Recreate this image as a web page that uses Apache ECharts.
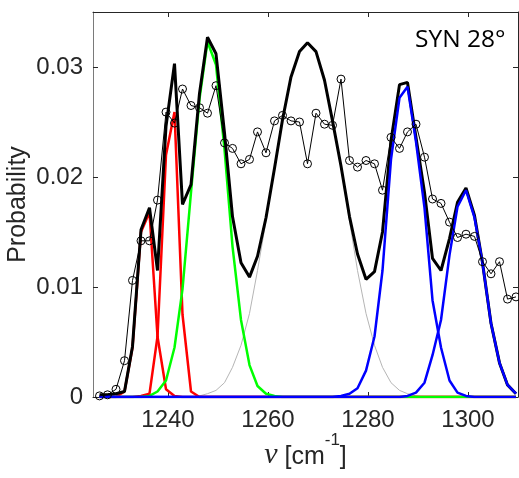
<!DOCTYPE html>
<html>
<head>
<meta charset="utf-8">
<script src="https://cdn.jsdelivr.net/npm/echarts@6/dist/echarts.min.js"></script>
<style>
html,body{margin:0;padding:0;background:#fff;}
#chart{width:519px;height:478px;}
</style>
</head>
<body>
<div id="chart"></div>
<script>
// wavenumber grid (cm^-1)
const nu = [1226.3,1227.9,1229.6,1231.3,1232.9,1234.6,1236.3,1237.9,1239.6,1241.3,
            1242.9,1244.6,1246.3,1247.9,1249.6,1251.3,1252.9,1254.6,1256.3,1257.9,
            1259.6,1261.3,1262.9,1264.6,1266.3,1267.9,1269.6,1271.3,1272.9,1274.6,
            1276.3,1277.9,1279.6,1281.3,1282.9,1284.6,1286.3,1287.9,1289.6,1291.3,
            1292.9,1294.6,1296.3,1297.9,1299.6,1301.3,1302.9,1304.6,1306.3,1307.9,1309.6];
// measured probability (circles)
const measured = [0.0001,0.0002,0.0007,0.0033,0.0106,0.0142,0.0142,0.0179,0.0259,0.0249,
                  0.0280,0.0265,0.0263,0.0258,0.0283,0.0231,0.0226,0.0212,0.0216,0.0241,
                  0.0222,0.0251,0.0256,0.0251,0.0250,0.0212,0.0258,0.0248,0.0247,0.0289,
                  0.0215,0.0209,0.0215,0.0212,0.0188,0.0236,0.0226,0.0241,0.0248,0.0218,
                  0.0180,0.0176,0.0159,0.0145,0.0148,0.0146,0.0123,0.0112,0.0123,0.0089,0.0091];
// total fit (thick black)
const fitTotal = [0.0002,0.0002,0.0003,0.0005,0.0046,0.0152,0.0172,0.0115,0.0246,0.0303,
                  0.0175,0.0193,0.0276,0.0327,0.0312,0.0240,0.0164,0.0122,0.0109,0.0128,
                  0.0163,0.0208,0.0252,0.0291,0.0314,0.0322,0.0314,0.0288,0.0251,0.0210,
                  0.0164,0.0130,0.0107,0.0114,0.0150,0.0233,0.0284,0.0286,0.0236,0.0186,
                  0.0126,0.0115,0.0144,0.0177,0.0190,0.0165,0.0122,0.0067,0.0031,0.0011,0.0003];
// components
const redA = [0,0,0,0.0005,0.0045,0.0150,0.0168,0.0055,0.0007,0.0001,
              0,0,0,0,0,0,0,0,0,0, 0,0,0,0,0,0,0,0,0,0, 0,0,0,0,0,0,0,0,0,0, 0,0,0,0,0,0,0,0,0,0,0];
const redB = [0,0,0,0,0,0.0001,0.0003,0.0055,0.0220,0.0259,
              0.0075,0.0005,0,0,0,0,0,0,0,0, 0,0,0,0,0,0,0,0,0,0, 0,0,0,0,0,0,0,0,0,0, 0,0,0,0,0,0,0,0,0,0,0];
const greenA = [0,0,0,0,0,0,0.0001,0.0005,0.0015,0.0045,
                0.0098,0.0186,0.0271,0.0323,0.0302,0.0225,0.0137,0.0070,0.0029,0.0010,
                0.0003,0.0001,0,0,0,0,0,0,0,0, 0,0,0,0,0,0,0,0,0,0, 0,0,0,0,0,0,0,0,0,0,0];
const grayA = [0,0,0,0,0,0,0,0,0,0,
               0,0,0.0001,0.0003,0.0006,0.0013,0.0027,0.0047,0.0076,0.0115,
               0.0160,0.0208,0.0253,0.0290,0.0314,0.0322,0.0314,0.0290,0.0253,0.0208,
               0.0160,0.0115,0.0076,0.0047,0.0027,0.0013,0.0006,0.0003,0.0001,0,
               0,0,0,0,0,0,0,0,0,0,0];
const blueA = [0,0,0,0,0,0,0,0,0,0, 0,0,0,0,0,0,0,0,0,0, 0,0,0,0,0,0,0,0,0,
               0.0001,0.0003,0.0008,0.0024,0.0055,0.0115,0.0216,0.0272,0.0282,0.0232,
               0.0172,0.0088,0.0045,0.0015,0.0004,0.0001,0,0,0,0,0,0];
const blueB = [0,0,0,0,0,0,0,0,0,0, 0,0,0,0,0,0,0,0,0,0, 0,0,0,0,0,0,0,0,0,0, 0,0,0,0,0,0,0,
               0.0001,0.0004,0.0013,0.0038,0.0070,0.0129,0.0173,0.0188,0.0163,0.0122,
               0.0067,0.0031,0.0011,0.0003];
const xTicks = [1240,1260,1280,1300];
const yTicks = [0,0.01,0.02,0.03];
const panelLabel = 'SYN 28°';

const axisColor = '#262626';
const pairs = arr => nu.map((x, i) => [x, arr[i]]);
const curve = (arr, color, width, z) => ({
  type: 'line', data: pairs(arr), showSymbol: false, symbol: 'none',
  lineStyle: {color: color, width: width}, itemStyle: {color: color}, z: z,
  emphasis: {disabled: true}, silent: true
});

const chart = echarts.init(document.getElementById('chart'), null, {renderer: 'canvas'});
chart.setOption({
  animation: false,
  backgroundColor: '#fff',
  grid: {left: 93, top: 12, width: 425, height: 385, containLabel: false, outerBoundsMode: 'none'},
  xAxis: [{
    type: 'value', min: 1225, max: 1310, position: 'bottom',
    axisLine: {show: true, onZero: false, lineStyle: {color: axisColor, width: 1}},
    axisTick: {show: true, inside: true, length: 5, customValues: xTicks, lineStyle: {color: axisColor}},
    axisLabel: {customValues: xTicks, fontSize: 24, color: axisColor, margin: 11, fontFamily: 'Liberation Sans',
                formatter: v => String(v)},
    splitLine: {show: false},
    name: '{nu|ν}{b| [cm}{sup|-1}{b|]}',
    nameLocation: 'middle', nameGap: 35, nameMoveOverlap: false,
    nameTextStyle: {
      color: axisColor,
      rich: {
        nu: {fontFamily: 'Liberation Serif', fontStyle: 'italic', fontSize: 30, color: axisColor, lineHeight: 38, verticalAlign: 'bottom'},
        b: {fontFamily: 'Liberation Sans', fontSize: 25, color: axisColor, lineHeight: 38, verticalAlign: 'bottom'},
        sup: {fontFamily: 'Liberation Sans', fontSize: 17, color: axisColor, lineHeight: 17, verticalAlign: 'top'}
      }
    }
  }, {
    type: 'value', min: 1225, max: 1310, position: 'top',
    axisLine: {show: true, onZero: false, lineStyle: {color: axisColor, width: 1}},
    axisTick: {show: true, inside: true, length: 5, customValues: xTicks, lineStyle: {color: axisColor}},
    axisLabel: {show: false}, splitLine: {show: false}
  }],
  yAxis: [{
    type: 'value', min: 0, max: 0.035, position: 'left',
    axisLine: {show: true, onZero: false, lineStyle: {color: '#7a7a7a', width: 1}},
    axisTick: {show: true, inside: true, length: 5, customValues: yTicks, lineStyle: {color: axisColor}},
    axisLabel: {customValues: yTicks, fontSize: 24, color: axisColor, margin: 10, fontFamily: 'Liberation Sans',
                formatter: v => (v === 0 ? '0' : String(v))},
    splitLine: {show: false},
    name: 'Probability', nameLocation: 'middle', nameRotate: 90, nameGap: 62, nameMoveOverlap: false,
    nameTextStyle: {fontSize: 25, color: axisColor, fontFamily: 'Liberation Sans'}
  }, {
    type: 'value', min: 0, max: 0.035, position: 'right',
    axisLine: {show: true, onZero: false, lineStyle: {color: axisColor, width: 1}},
    axisTick: {show: true, inside: true, length: 5, customValues: yTicks, lineStyle: {color: axisColor}},
    axisLabel: {show: false}, splitLine: {show: false}
  }],
  series: [
    curve(grayA, '#b5b5b5', 1, 2),
    curve(redA, '#ff0000', 2.5, 3),
    curve(redB, '#ff0000', 2.5, 3),
    curve(greenA, '#00ff00', 2.5, 3),
    curve(fitTotal, '#000000', 3, 4),
    curve(blueA, '#0000ff', 2.5, 5),
    curve(blueB, '#0000ff', 2.5, 5),
    {
      type: 'line', data: pairs(measured), symbol: 'circle', symbolSize: 8, showSymbol: true,
      lineStyle: {color: '#000', width: 1},
      itemStyle: {color: 'rgba(255,255,255,0)', borderColor: '#000', borderWidth: 1},
      z: 6, silent: true, emphasis: {disabled: true}
    }
  ],
  graphic: [{
    type: 'group', z: 100,
    children: [
      {type: 'rect', shape: {x: 405, y: 13, width: 114, height: 70}, style: {fill: '#fff'}},
      {type: 'text', x: 415, y: 40, style: {text: panelLabel, fill: '#000', font: '24.5px "Open Sans"', verticalAlign: 'middle', align: 'left'}}
    ]
  }]
});
</script>
</body>
</html>
